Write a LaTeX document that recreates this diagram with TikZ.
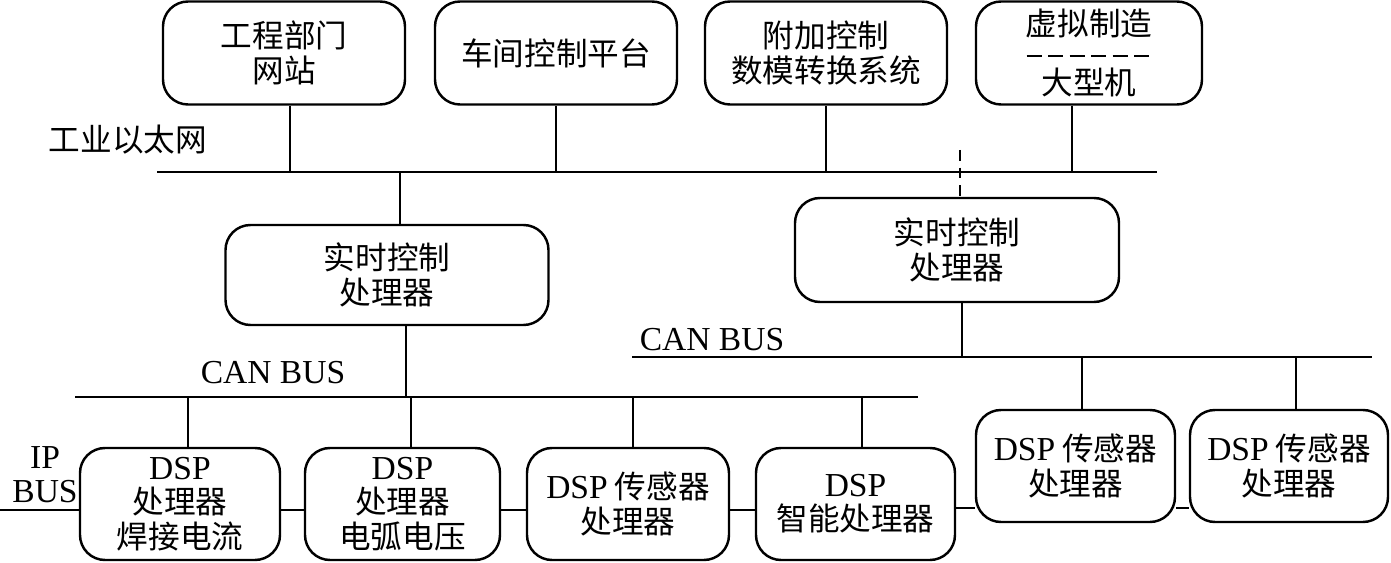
\documentclass[tikz,border=0pt]{standalone}
\usepackage{fontspec}
\setmainfont{Noto Sans CJK SC}
\newfontfamily\tnr[Scale=1.06]{Liberation Serif}
\usepackage{tikz}
\usetikzlibrary{positioning}
\tikzset{
  unit/.style={draw, line width=1.4pt, rounded corners=0.5cm, align=center,
    inner sep=0pt, minimum height=2.06cm},
  dsp/.style={unit, minimum height=2.24cm},
  bus/.style={line width=1pt},
  lbl/.style={inner sep=0pt, align=center}
}

\begin{document}
\begin{tikzpicture}[font=\fontsize{18}{19.5}\selectfont]
  \useasboundingbox (0,0) rectangle (27.82,11.26);

  % Top row of stations
  \node[unit, minimum width=4.84cm] (eng) at (5.68,10.2) {工程部门\\网站};
  \node[unit, minimum width=4.84cm] (shop) at (11.12,10.2) {车间控制平台};
  \node[unit, minimum width=4.84cm] (extra) at (16.52,10.2) {附加控制\\数模转换系统};
  \node[unit, minimum width=4.52cm] (vm) at (21.78,10.2) {虚拟制造\\[0.5cm]大型机};
  \draw[line width=1.2pt, dash pattern=on 0.3cm off 0.13cm]
    ([xshift=-1.25cm, yshift=-0.06cm]vm.center) -- ([xshift=1.25cm, yshift=-0.06cm]vm.center);

  % Industrial ethernet
  \coordinate (ethL) at (3.14,7.82);
  \coordinate (ethR) at (23.14,7.82);
  \draw[bus] (ethL) -- (ethR);
  \node[lbl] (ethlbl) at (2.56,8.46) {工业以太网};
  \draw[bus] (5.8,0 |- eng.south) -- (5.8,0 |- ethL);
  \draw[bus] (11.12,0 |- shop.south) -- (11.12,0 |- ethL);
  \draw[bus] (16.52,0 |- extra.south) -- (16.52,0 |- ethL);
  \draw[bus] (21.44,0 |- vm.south) -- (21.44,0 |- ethL);

  % Real-time controllers
  \node[unit, minimum width=6.46cm, minimum height=2.0cm] (rtL) at (7.74,5.76) {实时控制\\处理器};
  \node[unit, minimum width=6.48cm, minimum height=2.08cm] (rtR) at (19.14,6.26) {实时控制\\处理器};
  \draw[bus] (8.0,0 |- ethL) -- (8.0,0 |- rtL.north);
  \coordinate (tap) at (19.2,8.26);
  \draw[bus, dash pattern=on 6pt off 4pt] (tap) -- (19.2,0 |- rtR.north);

  % CAN buses
  \coordinate (canL1) at (1.5,3.32);
  \coordinate (canL2) at (18.36,3.32);
  \draw[bus] (canL1) -- (canL2);
  \node[lbl] (canLlbl) at (5.46,3.8) {\tnr CAN BUS};
  \draw[bus] (8.12,0 |- rtL.south) -- (8.12,0 |- canL1);

  \coordinate (canR1) at (12.64,4.12);
  \coordinate (canR2) at (27.44,4.12);
  \draw[bus] (canR1) -- (canR2);
  \node[lbl] (canRlbl) at (14.24,4.46) {\tnr CAN BUS};
  \draw[bus] (19.24,0 |- rtR.south) -- (19.24,0 |- canR1);

  % DSP units
  \node[dsp, minimum width=4.0cm] (b1) at (3.6,1.18) {{\tnr DSP}\\处理器\\焊接电流};
  \node[dsp, minimum width=3.9cm] (b2) at (8.05,1.18) {{\tnr DSP}\\处理器\\电弧电压};
  \node[dsp, minimum width=4.04cm] (b3) at (12.56,1.18) {{\tnr DSP} 传感器\\处理器};
  \node[dsp, minimum width=3.98cm] (b4) at (17.11,1.18) {{\tnr DSP}\\智能处理器};
  \node[dsp, minimum width=3.98cm] (b5) at (21.51,1.94) {{\tnr DSP} 传感器\\处理器};
  \node[dsp, minimum width=3.96cm] (b6) at (25.78,1.94) {{\tnr DSP} 传感器\\处理器};

  \draw[bus] (3.76,0 |- canL1) -- (3.76,0 |- b1.north);
  \draw[bus] (8.22,0 |- canL1) -- (8.22,0 |- b2.north);
  \draw[bus] (12.66,0 |- canL1) -- (12.66,0 |- b3.north);
  \draw[bus] (17.24,0 |- canL1) -- (17.24,0 |- b4.north);
  \draw[bus] (21.64,0 |- canR1) -- (21.64,0 |- b5.north);
  \draw[bus] (25.92,0 |- canR1) -- (25.92,0 |- b6.north);

  % IP bus chain
  \coordinate (ipL) at (0,1.06);
  \node[lbl] (iplbl) at (0.9,1.76) {{\tnr IP}\\{\tnr BUS}};
  \draw[bus] (ipL) -- (b1.west |- ipL);
  \draw[bus] (b1.east |- 0,1.06) -- (b2.west |- 0,1.06);
  \draw[bus] (b2.east |- 0,1.06) -- (b3.west |- 0,1.06);
  \draw[bus] (b3.east |- 0,1.06) -- (b4.west |- 0,1.06);
  \draw[bus] (b4.east |- 0,1.1) -- (b5.west |- 0,1.1);
  \draw[bus] (b5.east |- 0,1.1) -- (b6.west |- 0,1.1);
\end{tikzpicture}
\end{document}
